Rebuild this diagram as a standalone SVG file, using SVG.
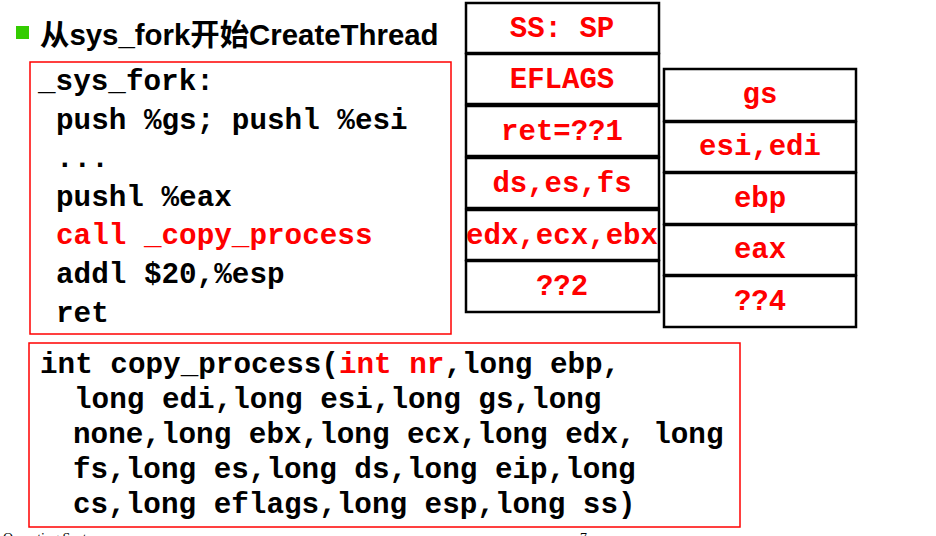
<svg xmlns="http://www.w3.org/2000/svg" width="936" height="536" viewBox="0 0 936 536">
  <style>
    .code { font-family: "Liberation Mono", "Courier New", monospace; font-weight: bold; font-size: 29.3px; fill: #000; }
    .red { fill: #ff0000; }
    .frame { fill: none; stroke: #ff0000; stroke-width: 1.5; }
    .cell { fill: #fff; stroke: #000; stroke-width: 2.5; }
    .cell-text { font-family: "Liberation Mono", "Courier New", monospace; font-weight: bold; font-size: 29px; fill: #ff0000; text-anchor: middle; }
    .title { font-family: "Liberation Sans", Arial, "Noto Sans CJK SC", sans-serif; font-weight: bold; font-size: 29.4px; fill: #000; }
    .footer { font-family: "Liberation Serif", serif; font-size: 14px; fill: #000; }
  </style>
  <rect width="936" height="536" fill="#fff"/>

  <!-- heading -->
  <g id="title">
    <rect x="16" y="26" width="13" height="13" fill="#33cc00"/>
    <text class="title" x="40" y="45">从sys_fork开始CreateThread</text>
  </g>

  <!-- _sys_fork assembly -->
  <g id="sys_fork">
    <rect class="frame" x="30" y="62" width="421" height="272"/>
    <text class="code" x="38" y="90">_sys_fork:</text>
    <text class="code" x="56" y="128.6">push %gs; pushl %esi</text>
    <text class="code" x="56" y="167">...</text>
    <text class="code" x="56" y="206">pushl %eax</text>
    <text class="code red" x="56" y="244">call _copy_process</text>
    <text class="code" x="56" y="283">addl $20,%esp</text>
    <text class="code" x="56" y="322">ret</text>
  </g>

  <!-- copy_process signature -->
  <g id="copy_process">
    <rect class="frame" x="29" y="343" width="711" height="184"/>
    <text class="code" x="40" y="373">int copy_process(<tspan class="red">int nr</tspan>,long ebp,</text>
    <text class="code" x="74" y="408">long edi,long esi,long gs,long</text>
    <text class="code" x="73" y="443">none,long ebx,long ecx,long edx, long</text>
    <text class="code" x="73" y="478">fs,long es,long ds,long eip,long</text>
    <text class="code" x="73" y="513">cs,long eflags,long esp,long ss)</text>
  </g>

  <!-- kernel stack on entry -->
  <g id="stack_left">
    <rect class="cell" x="466" y="3" width="193" height="50"/>
    <rect class="cell" x="466" y="54" width="193" height="50"/>
    <rect class="cell" x="466" y="106" width="193" height="50"/>
    <rect class="cell" x="466" y="158" width="193" height="50"/>
    <rect class="cell" x="466" y="210" width="193" height="50"/>
    <rect class="cell" x="466" y="261" width="193" height="51"/>
    <text class="cell-text" x="562" y="37">SS: SP</text>
    <text class="cell-text" x="562" y="88">EFLAGS</text>
    <text class="cell-text" x="562" y="140">ret=??1</text>
    <text class="cell-text" x="562" y="192">ds,es,fs</text>
    <text class="cell-text" x="562" y="244" textLength="192" lengthAdjust="spacingAndGlyphs">edx,ecx,ebx</text>
    <text class="cell-text" x="562" y="295">??2</text>
  </g>

  <!-- stack after pushes in _sys_fork -->
  <g id="stack_right">
    <rect class="cell" x="664" y="69" width="192" height="52"/>
    <rect class="cell" x="664" y="122" width="192" height="50"/>
    <rect class="cell" x="664" y="173" width="192" height="51"/>
    <rect class="cell" x="664" y="225" width="192" height="50"/>
    <rect class="cell" x="664" y="276" width="192" height="51"/>
    <text class="cell-text" x="760" y="103">gs</text>
    <text class="cell-text" x="760" y="155">esi,edi</text>
    <text class="cell-text" x="760" y="207">ebp</text>
    <text class="cell-text" x="760" y="258">eax</text>
    <text class="cell-text" x="760" y="310">??4</text>
  </g>

  <!-- page footer, running off the bottom edge -->
  <g id="footer">
    <text class="footer" x="3" y="543">Operating Systems</text>
    <text class="footer" x="580" y="543">7</text>
  </g>
</svg>
